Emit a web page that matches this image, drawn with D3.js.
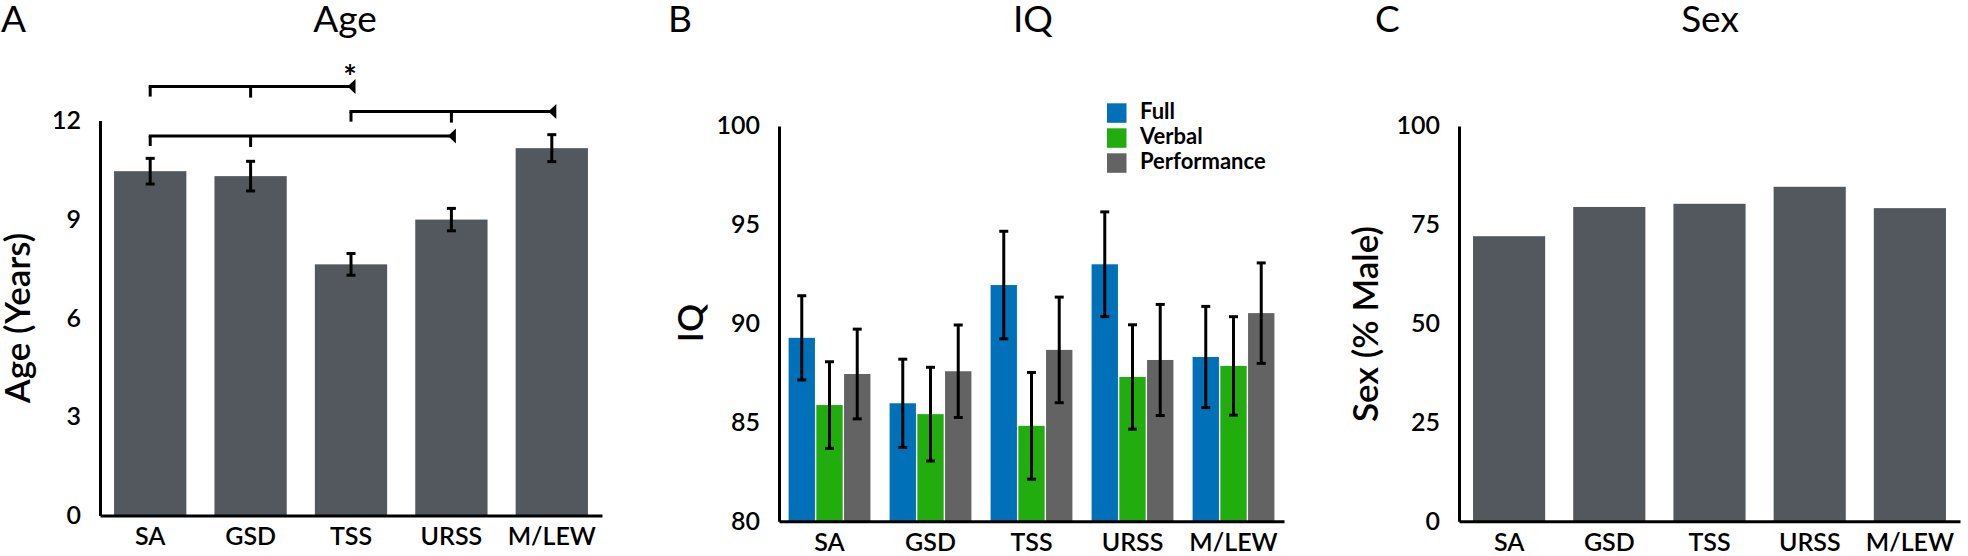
<!DOCTYPE html>
<meta charset="utf-8">
<style>
body { margin: 0; background: #fff; }
text { font-family: 'Lato', 'Open Sans', sans-serif; fill: #000; }
.title { font-size: 37px; }
.ylab { font-size: 35px; font-weight: 600; }
.tick text { font-size: 25px; font-weight: 600; }
.domain { stroke: #000; stroke-width: 3; }
.legend text { font-size: 22px; font-weight: 700; }
</style>
<body>
<script src="https://cdn.jsdelivr.net/npm/d3@7"></script>
<script>

// groups on every x axis
var groups = ["SA", "GSD", "TSS", "URSS", "M/LEW"];

// panel A - age
var ageMean = [10.46, 10.31, 7.63, 8.99, 11.16];
var ageErr  = [0.39, 0.45, 0.33, 0.34, 0.41];
var ageTicks = [0, 3, 6, 9, 12];
// significance brackets (from, middle tick, arrow end, height in years)
var bracketFrom  = ["SA", "TSS", "SA"];
var bracketMid   = ["GSD", "URSS", "GSD"];
var bracketTo    = ["TSS", "M/LEW", "URSS"];
var bracketLevel = [13.03, 12.27, 11.53];
var bracketStar  = [true, false, false];

// panel B - IQ
var iqSeries = ["Full", "Verbal", "Performance"];
var iqFull      = [89.28, 85.97, 91.95, 93.0, 88.31];
var iqFullErr   = [2.13, 2.23, 2.72, 2.65, 2.56];
var iqVerbal    = [85.88, 85.42, 84.83, 87.3, 87.86];
var iqVerbalErr = [2.19, 2.37, 2.7, 2.64, 2.49];
var iqPerf      = [87.45, 87.59, 88.67, 88.16, 90.53];
var iqPerfErr   = [2.27, 2.34, 2.67, 2.81, 2.54];
var iqTicks = [80, 85, 90, 95, 100];

// panel C - sex
var sexMale = [72.1, 79.5, 80.3, 84.6, 79.2];
var sexTicks = [0, 25, 50, 75, 100];

var colors = {bar: "#53585f", Full: "#0071b9", Verbal: "#22ad0f", Performance: "#636363"};

var svg = d3.select("body").append("svg")
    .attr("width", 1968)
    .attr("height", 556);

function drawAxes(x, y, ticks) {
  svg.append("g")
      .attr("transform", "translate(0," + y.range()[0] + ")")
      .call(d3.axisBottom(x).tickSize(0).tickSizeOuter(0).tickPadding(12));
  svg.append("g")
      .attr("transform", "translate(" + x.range()[0] + ",0)")
      .call(d3.axisLeft(y).tickValues(ticks).tickSize(0).tickSizeOuter(0).tickPadding(19));
}

function errorBar(g, cx, y0, y1) {
  g.append("line").attr("x1", cx).attr("x2", cx).attr("y1", y0).attr("y2", y1);
  g.append("line").attr("x1", cx - 4.5).attr("x2", cx + 4.5).attr("y1", y0).attr("y2", y0);
  g.append("line").attr("x1", cx - 4.5).attr("x2", cx + 4.5).attr("y1", y1).attr("y2", y1);
}

function title(x, letter, lx, txt) {
  svg.append("text").attr("class", "title").attr("x", lx).attr("y", 32).text(letter);
  svg.append("text").attr("class", "title").attr("x", x).attr("y", 32)
      .style("text-anchor", "middle").text(txt);
}

function yTitle(x, y, txt) {
  svg.append("text").attr("class", "ylab")
      .attr("transform", "translate(" + x + "," + y + ") rotate(-90)")
      .style("text-anchor", "middle").text(txt);
}

// ---------- A: Age ----------
var xA = d3.scaleBand().domain(groups).range([100, 602]).paddingInner(0.28).paddingOuter(0.14);
var yA = d3.scaleLinear().domain([0, 12]).range([515.5, 120.5]);

svg.selectAll(".barA")
    .data(groups)
  .enter().append("rect")
    .attr("class", "barA")
    .attr("fill", colors.bar)
    .attr("x", function(d) { return xA(d); })
    .attr("width", xA.bandwidth())
    .attr("y", function(d, i) { return yA(ageMean[i]); })
    .attr("height", function(d, i) { return yA(0) - yA(ageMean[i]); });

var errA = svg.append("g").attr("stroke", "#000").attr("stroke-width", 3);
groups.forEach(function(d, i) {
  var cx = xA(d) + xA.bandwidth() / 2;
  errorBar(errA, cx, yA(ageMean[i] + ageErr[i]), yA(ageMean[i] - ageErr[i]));
});

drawAxes(xA, yA, ageTicks);

var br = svg.append("g").attr("stroke", "#000").attr("stroke-width", 3).attr("fill", "#000");
var cxA = function(d) { return xA(d) + xA.bandwidth() / 2; };
bracketLevel.forEach(function(lv, i) {
  var yy = yA(lv), x0 = cxA(bracketFrom[i]), xm = cxA(bracketMid[i]), x1 = cxA(bracketTo[i]);
  br.append("line").attr("x1", x0 - 1.5).attr("x2", x1).attr("y1", yy).attr("y2", yy);
  br.append("line").attr("x1", x0).attr("x2", x0).attr("y1", yy).attr("y2", yy + 10);
  br.append("line").attr("x1", xm).attr("x2", xm).attr("y1", yy).attr("y2", yy + 11);
  br.append("path").attr("stroke", "none")
      .attr("d", "M" + (x1 + 4.5) + "," + (yy - 7.5) + "L" + (x1 - 3.5) + "," + yy + "L" + (x1 + 4.5) + "," + (yy + 7.5) + "Z");
  if (bracketStar[i]) {
    svg.append("text").attr("x", x1 - 1).attr("y", yy + 2)
        .style("text-anchor", "middle").style("font-size", "32px").style("font-weight", 700)
        .text("*");
  }
});

title(345, "A", 1, "Age");
yTitle(30, 318, "Age (Years)");

// ---------- B: IQ ----------
var iqMeans = {Full: iqFull, Verbal: iqVerbal, Performance: iqPerf};
var iqErrs  = {Full: iqFullErr, Verbal: iqVerbalErr, Performance: iqPerfErr};

var xB = d3.scaleBand().domain(groups).range([779, 1284]).paddingInner(0.19).paddingOuter(0.095);
var xB1 = d3.scaleBand().domain(iqSeries).range([0, xB.bandwidth()]).paddingInner(0.05);
var yB = d3.scaleLinear().domain([80, 100]).range([521.3, 125.9]);

var gB = svg.selectAll(".grpB")
    .data(groups)
  .enter().append("g")
    .attr("class", "grpB")
    .attr("transform", function(d) { return "translate(" + xB(d) + ",0)"; });

gB.selectAll("rect")
    .data(function(d, i) { return iqSeries.map(function(s) { return {s: s, v: iqMeans[s][i]}; }); })
  .enter().append("rect")
    .attr("x", function(d) { return xB1(d.s); })
    .attr("width", xB1.bandwidth())
    .attr("y", function(d) { return yB(d.v); })
    .attr("height", function(d) { return yB(80) - yB(d.v); })
    .attr("fill", function(d) { return colors[d.s]; });

var errB = svg.append("g").attr("stroke", "#000").attr("stroke-width", 3);
groups.forEach(function(d, i) {
  iqSeries.forEach(function(s) {
    var cx = xB(d) + xB1(s) + xB1.bandwidth() / 2;
    errorBar(errB, cx, yB(iqMeans[s][i] + iqErrs[s][i]), yB(iqMeans[s][i] - iqErrs[s][i]));
  });
});

drawAxes(xB, yB, iqTicks);

var legend = svg.append("g").attr("class", "legend");
iqSeries.forEach(function(s, i) {
  var ly = 103.3 + i * 25;
  legend.append("rect").attr("x", 1107).attr("y", ly).attr("width", 19.5).attr("height", 19.5)
      .attr("fill", colors[s]);
  legend.append("text").attr("x", 1140).attr("y", ly + 16).text(s);
});

title(1033, "B", 668, "IQ");
yTitle(703, 323, "IQ");

// ---------- C: Sex ----------
var xC = d3.scaleBand().domain(groups).range([1459, 1960]).paddingInner(0.28).paddingOuter(0.14);
var yC = d3.scaleLinear().domain([0, 100]).range([521.3, 125.9]);

svg.selectAll(".barC")
    .data(groups)
  .enter().append("rect")
    .attr("class", "barC")
    .attr("fill", colors.bar)
    .attr("x", function(d) { return xC(d); })
    .attr("width", xC.bandwidth())
    .attr("y", function(d, i) { return yC(sexMale[i]); })
    .attr("height", function(d, i) { return yC(0) - yC(sexMale[i]); });

drawAxes(xC, yC, sexTicks);

title(1710, "C", 1375, "Sex");
yTitle(1378, 324, "Sex (% Male)");

</script>
</body>
